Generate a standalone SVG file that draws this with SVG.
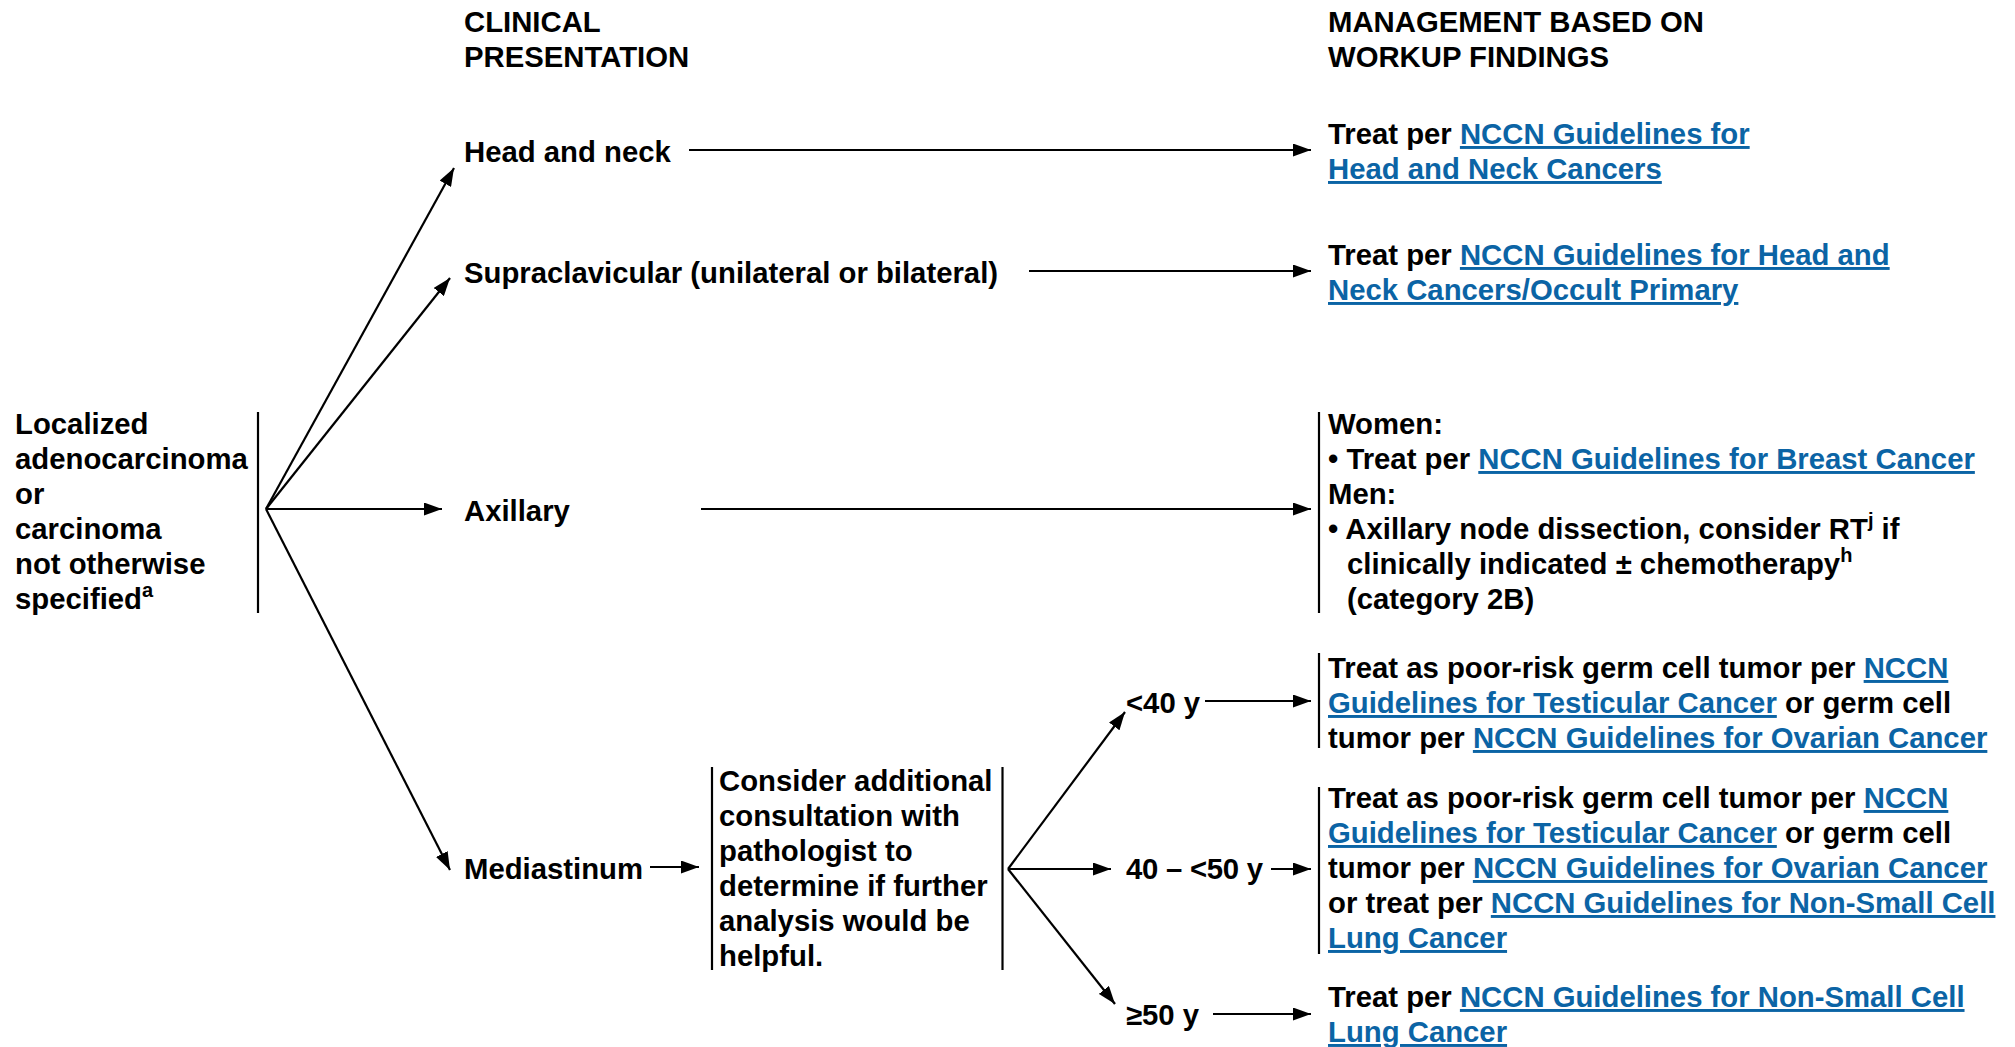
<svg xmlns="http://www.w3.org/2000/svg" width="2015" height="1047" viewBox="0 0 2015 1047">
<style>
text{font-family:"Liberation Sans",Arial,Helvetica,sans-serif;font-weight:bold;font-size:29.3px;fill:#000}
.link{fill:#0b64a5;text-decoration:underline}
.sup{font-size:20px}
.bar{stroke:#000;stroke-width:2.2;fill:none}
.arr{stroke:#000;stroke-width:2.2;fill:none;marker-end:url(#ah)}
</style>
<defs>
<marker id="ah" markerUnits="userSpaceOnUse" markerWidth="18" markerHeight="13" refX="18" refY="6.5" orient="auto">
<path d="M0,0 L18,6.5 L0,13 z" fill="#000"/>
</marker>
</defs>
<rect width="2015" height="1047" fill="#fff"/>

<g id="headers">
<text x="464" y="32">CLINICAL</text>
<text x="464" y="67">PRESENTATION</text>
<text x="1328" y="32">MANAGEMENT BASED ON</text>
<text x="1328" y="67">WORKUP FINDINGS</text>
</g>

<g id="connectors">
<line class="arr" x1="266" y1="509" x2="454" y2="168"/>
<line class="arr" x1="266" y1="509" x2="450" y2="278"/>
<line class="arr" x1="266" y1="509" x2="442" y2="509"/>
<line class="arr" x1="266" y1="509" x2="450" y2="870"/>
<line class="arr" x1="689" y1="150" x2="1311" y2="150"/>
<line class="arr" x1="1029" y1="271" x2="1311" y2="271"/>
<line class="arr" x1="701" y1="509" x2="1311" y2="509"/>
<line class="arr" x1="650" y1="867" x2="699" y2="867"/>
<line class="arr" x1="1008" y1="869" x2="1125" y2="712"/>
<line class="arr" x1="1008" y1="869" x2="1111" y2="869"/>
<line class="arr" x1="1008" y1="869" x2="1115" y2="1004"/>
<line class="arr" x1="1205" y1="701" x2="1311" y2="701"/>
<line class="arr" x1="1271" y1="869" x2="1311" y2="869"/>
<line class="arr" x1="1213" y1="1014" x2="1311" y2="1014"/>
</g>

<g id="node-localized">
<line class="bar" x1="258" y1="412" x2="258" y2="613"/>
<text x="15" y="434">Localized</text>
<text x="15" y="469">adenocarcinoma</text>
<text x="15" y="504">or</text>
<text x="15" y="539">carcinoma</text>
<text x="15" y="574">not otherwise</text>
<text x="15" y="609">specified<tspan class="sup" dy="-12">a</tspan></text>
</g>

<g id="node-head-neck">
<text x="464" y="162">Head and neck</text>
</g>
<g id="node-supraclavicular">
<text x="464" y="283">Supraclavicular (unilateral or bilateral)</text>
</g>
<g id="node-axillary">
<text x="464" y="521">Axillary</text>
</g>
<g id="node-mediastinum">
<text x="464" y="879">Mediastinum</text>
</g>

<g id="node-consider">
<line class="bar" x1="712" y1="767" x2="712" y2="970"/>
<line class="bar" x1="1002.5" y1="767" x2="1002.5" y2="970"/>
<text x="719" y="791">Consider additional</text>
<text x="719" y="826">consultation with</text>
<text x="719" y="861">pathologist to</text>
<text x="719" y="896">determine if further</text>
<text x="719" y="931">analysis would be</text>
<text x="719" y="966">helpful.</text>
</g>

<g id="node-lt40">
<text x="1126" y="713">&lt;40 y</text>
</g>
<g id="node-40-50">
<text x="1126" y="879" textLength="137">40 – &lt;50 y</text>
</g>
<g id="node-ge50">
<text x="1126" y="1025">≥50 y</text>
</g>

<g id="result-head-neck">
<text x="1328" y="144">Treat per <tspan class="link">NCCN Guidelines for</tspan></text>
<text x="1328" y="179" class="link">Head and Neck Cancers</text>
</g>

<g id="result-supraclavicular">
<text x="1328" y="265">Treat per <tspan class="link">NCCN Guidelines for Head and</tspan></text>
<text x="1328" y="300" class="link">Neck Cancers/Occult Primary</text>
</g>

<g id="result-axillary">
<line class="bar" x1="1319" y1="412" x2="1319" y2="613"/>
<text x="1328" y="434">Women:</text>
<text x="1328" y="469">• Treat per <tspan class="link">NCCN Guidelines for Breast Cancer</tspan></text>
<text x="1328" y="504">Men:</text>
<text x="1328" y="539">• Axillary node dissection, consider RT<tspan class="sup" dy="-12">j</tspan><tspan dy="12"> if</tspan></text>
<text x="1347" y="574">clinically indicated ± chemotherapy<tspan class="sup" dy="-12">h</tspan></text>
<text x="1347" y="609">(category 2B)</text>
</g>

<g id="result-lt40">
<line class="bar" x1="1319" y1="653" x2="1319" y2="748"/>
<text x="1328" y="678">Treat as poor-risk germ cell tumor per <tspan class="link">NCCN</tspan></text>
<text x="1328" y="713"><tspan class="link">Guidelines for Testicular Cancer</tspan> or germ cell</text>
<text x="1328" y="748">tumor per <tspan class="link">NCCN Guidelines for Ovarian Cancer</tspan></text>
</g>

<g id="result-40-50">
<line class="bar" x1="1319" y1="787" x2="1319" y2="954"/>
<text x="1328" y="808">Treat as poor-risk germ cell tumor per <tspan class="link">NCCN</tspan></text>
<text x="1328" y="843"><tspan class="link">Guidelines for Testicular Cancer</tspan> or germ cell</text>
<text x="1328" y="878">tumor per <tspan class="link">NCCN Guidelines for Ovarian Cancer</tspan></text>
<text x="1328" y="913">or treat per <tspan class="link">NCCN Guidelines for Non-Small Cell</tspan></text>
<text x="1328" y="948" class="link">Lung Cancer</text>
</g>

<g id="result-ge50">
<text x="1328" y="1007">Treat per <tspan class="link">NCCN Guidelines for Non-Small Cell</tspan></text>
<text x="1328" y="1042" class="link">Lung Cancer</text>
</g>
</svg>
